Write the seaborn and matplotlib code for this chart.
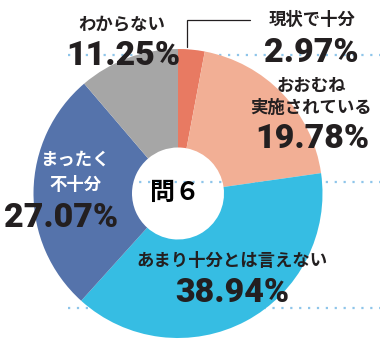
import matplotlib
matplotlib.use("Agg")
import matplotlib.pyplot as plt
import seaborn as sns

# ---- data ----
categories = ["現状で十分", "おおむね\n実施されている", "あまり十分とは言えない", "まったく\n不十分", "わからない"]
values = [2.97, 19.78, 38.94, 27.07, 11.25]
pct_labels = ["2.97%", "19.78%", "38.94%", "27.07%", "11.25%"]
colors = ["#E87A62", "#F2AF95", "#36BDE3", "#5573AB", "#A6A6A6"]
center_label = "問６"

sns.set_theme(style="white")
plt.rcParams["font.family"] = ["Noto Sans CJK JP", "DejaVu Sans"]

W, H = 380, 342
fig = plt.figure(figsize=(W / 100, H / 100), dpi=100)
ax = fig.add_axes([0, 0, 1, 1])

def Y(y):
    return H - y

cx, cy, R, r_in = 178, 193.5, 144.5, 46

# background dotted guide lines
dot_col = "#8EC5EA"
for yy, x0 in [(55, 68), (182, 68), (308, 68)]:
    ax.plot([x0, W], [Y(yy), Y(yy)], color=dot_col, lw=1.6,
            linestyle=(0, (1, 3.0)), zorder=0, solid_capstyle="butt",
            dash_capstyle="butt")

ax.pie(values, colors=colors, startangle=90, counterclock=False,
       center=(cx, Y(cy)), radius=R,
       wedgeprops=dict(width=R - r_in, linewidth=0, zorder=2))

ax.set_xlim(0, W)
ax.set_ylim(0, H)
ax.set_aspect("auto")
ax.axis("off")

# leader line for the small slice
ax.plot([187, 187, 250], [Y(47), Y(20), Y(20)], color="#231F20", lw=0.9,
        zorder=3, solid_joinstyle="miter")

dark = "#231F20"
jp = dict(family=["Noto Sans CJK JP", "DejaVu Sans"], fontsize=12.5,
          fontweight="bold", ha="center", va="center", zorder=5)
num = dict(family=["Roboto", "DejaVu Sans"], fontsize=24.5, fontweight="heavy",
           ha="center", va="baseline", color=dark, zorder=5)

# 現状で十分
ax.text(312, Y(20), categories[0], color=dark, **jp)
ax.text(311, Y(62), pct_labels[0], **num)
# おおむね実施されている
ax.text(311, Y(86), "おおむね", color=dark, **jp)
ax.text(311, Y(108), "実施されている", color=dark, **jp)
ax.text(312, Y(148), pct_labels[1], **num)
# あまり十分とは言えない
ax.text(232, Y(261), categories[2], color=dark, **jp)
ax.text(232, Y(302), pct_labels[2], **num)
# まったく不十分
ax.text(75, Y(160), "まったく", color="white", **jp)
ax.text(75, Y(185), "不十分", color="white", **jp)
ax.text(61, Y(227), pct_labels[3], **num)
# わからない
ax.text(122, Y(24), categories[4], color=dark, **jp)
ax.text(123, Y(65), pct_labels[4], **num)

# center label
ax.text(175, Y(193), center_label, family=["Noto Sans CJK JP", "DejaVu Sans"],
        fontsize=18, fontweight="bold", ha="center", va="center",
        color="black", zorder=5)

fig.savefig("out.png", dpi=100, facecolor="white")
